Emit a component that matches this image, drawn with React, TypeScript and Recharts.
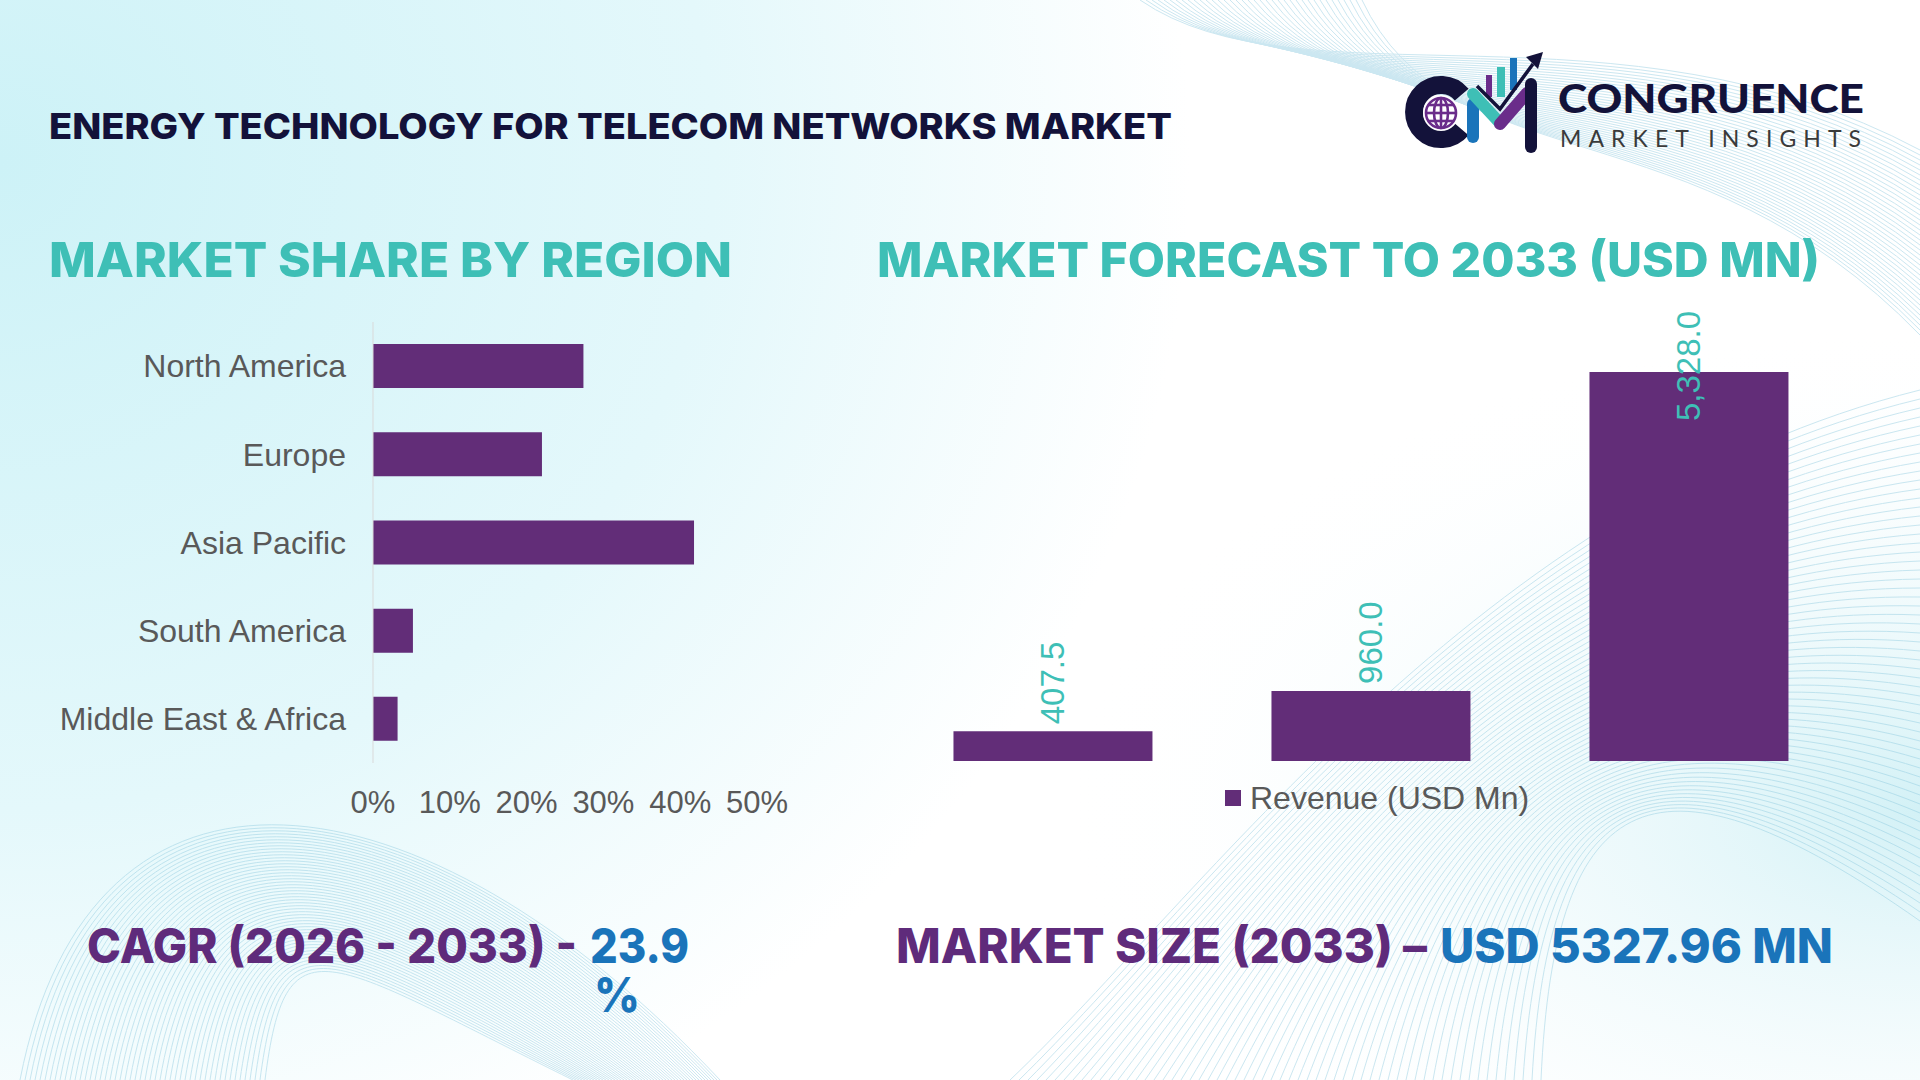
import React from "react";
import { Bar, BarChart, LabelList, Legend, XAxis, YAxis } from "recharts";

// Market share by region (fraction of total)
const regions = [
  "North America",
  "Europe",
  "Asia Pacific",
  "South America",
  "Middle East & Africa",
];
const regionShare = [0.274, 0.22, 0.418, 0.052, 0.032];
const shareTicks = [0, 0.1, 0.2, 0.3, 0.4, 0.5];

// Revenue forecast, USD Mn
const forecastYears = ["2021", "2025", "2033"];
const forecastRevenue = [407.5, 960.0, 5328.0];
const revenueDomain = [0, 6000];

const regionData = regions.map((region, i) => ({ region, share: regionShare[i] }));
const forecastData = forecastYears.map((year, i) => ({
  year,
  revenue: forecastRevenue[i],
}));

const PURPLE = "#622d78";
const TEAL = "#3ebfb6";
const NAVY = "#13123a";
const BLUE = "#1a74ba";
const HEAD_PURPLE = "#5f2b7b";
const AXIS_TEXT = "#595959";
const CHART_FONT = "'Liberation Sans', Arial, sans-serif";
const HEAD_FONT = "Inter, 'Open Sans', sans-serif";

const FORECAST_TOP = 23;

const fmtRevenue = (v: number) =>
  v.toLocaleString("en-US", { minimumFractionDigits: 1, maximumFractionDigits: 1 });

// rough Arial advance widths so the rotated label can be kept inside the frame
const textWidth = (s: string, size: number) =>
  s.split("").reduce((w, ch) => w + (/[0-9]/.test(ch) ? 0.556 : 0.278), 0) * size;

const ValueLabel = (props: any) => {
  const { x, y, width, value } = props;
  const text = fmtRevenue(Number(value));
  const size = 33;
  const cx = x + width / 2;
  const start = Math.max(y - 7, FORECAST_TOP - 12 + textWidth(text, size));
  return (
    <text
      x={cx}
      y={start}
      transform={`rotate(-90 ${cx} ${start})`}
      textAnchor="start"
      dominantBaseline="central"
      fill={TEAL}
      fontSize={size}
      fontFamily={CHART_FONT}
    >
      {text}
    </text>
  );
};

const RevenueLegend = () => (
  <div style={{ display: "flex", alignItems: "center", fontFamily: CHART_FONT }}>
    <span style={{ width: 16, height: 16, background: PURPLE, marginRight: 9 }} />
    <span style={{ fontSize: 32, color: AXIS_TEXT, lineHeight: "36px" }}>
      Revenue (USD Mn)
    </span>
  </div>
);

// faint line-mesh decoration
const range = (n: number) => Array.from({ length: n }, (_, i) => i);

const Background = () => (
  <svg width={1920} height={1080} style={{ position: "absolute", left: 0, top: 0 }}>
    <defs>
      <radialGradient id="haze-tl" cx="0" cy="0.15" r="1" gradientTransform="scale(0.62 1)">
        <stop offset="0" stopColor="#cdf2f7" />
        <stop offset="0.6" stopColor="#e4f8fb" />
        <stop offset="1" stopColor="#ffffff" />
      </radialGradient>
      <radialGradient id="haze-br" cx="1" cy="0.75" r="0.45">
        <stop offset="0" stopColor="#d3f1f6" />
        <stop offset="1" stopColor="#ffffff" stopOpacity="0" />
      </radialGradient>
    </defs>
    <rect width={1920} height={1080} fill="url(#haze-tl)" />
    <rect width={1920} height={1080} fill="url(#haze-br)" />
    <g fill="none" stroke="#86c7de" strokeWidth={1} opacity={0.42}>
      {range(50).map((i) => (
        <path
          key={`bl${i}`}
          d={`M ${20 + i * 5} 1080 C ${90 + i * 4} ${720 + i * 4}, ${420 - i * 2} ${760 + i * 4}, ${720 - i * 3} 1080`}
        />
      ))}
      {range(60).map((i) => (
        <path
          key={`br${i}`}
          d={`M ${1010 + i * 9} 1080 C ${1200 + i * 6} ${900 - i * 2}, ${1480 + i * 3} ${500 + i * 4}, 1920 ${390 + i * 9}`}
        />
      ))}
      {range(38).map((i) => (
        <path
          key={`tr${i}`}
          d={`M ${1140 + i * 6} 0 C ${1300 + i * 4} ${110 + i * 2}, ${1620 + i * 2} ${-10 + i * 3}, 1920 ${150 + i * 5}`}
        />
      ))}
    </g>

    {/* headings */}
    <text x={49} y={139} fontFamily={HEAD_FONT} fontWeight={800} fontSize={36} fill={NAVY}
      textLength={1123} lengthAdjust="spacingAndGlyphs">
      ENERGY TECHNOLOGY FOR TELECOM NETWORKS MARKET
    </text>
    <text x={49} y={277} fontFamily={HEAD_FONT} fontWeight={800} fontSize={48} fill={TEAL}
      textLength={683} lengthAdjust="spacingAndGlyphs">
      MARKET SHARE BY REGION
    </text>
    <text x={877} y={277} fontFamily={HEAD_FONT} fontWeight={800} fontSize={48} fill={TEAL}
      textLength={943} lengthAdjust="spacingAndGlyphs">
      MARKET FORECAST TO 2033 (USD MN)
    </text>

    <text x={87} y={963} fontFamily={HEAD_FONT} fontWeight={800} fontSize={48} fill={HEAD_PURPLE}
      textLength={490} lengthAdjust="spacingAndGlyphs">
      CAGR (2026 - 2033) -
    </text>
    <text x={590} y={963} fontFamily={HEAD_FONT} fontWeight={800} fontSize={48} fill={BLUE}
      textLength={99} lengthAdjust="spacingAndGlyphs">
      23.9
    </text>
    <text x={594} y={1012} fontFamily={HEAD_FONT} fontWeight={800} fontSize={48} fill={BLUE}
      textLength={46} lengthAdjust="spacingAndGlyphs">
      %
    </text>
    <text x={896} y={963} fontFamily={HEAD_FONT} fontWeight={800} fontSize={48} fill={HEAD_PURPLE}
      textLength={497} lengthAdjust="spacingAndGlyphs">
      MARKET SIZE (2033)
    </text>
    <text x={1403} y={963} fontFamily={HEAD_FONT} fontWeight={800} fontSize={48} fill={HEAD_PURPLE}
      textLength={24} lengthAdjust="spacingAndGlyphs">
      –
    </text>
    <text x={1440} y={963} fontFamily={HEAD_FONT} fontWeight={800} fontSize={48} fill={BLUE}
      textLength={393} lengthAdjust="spacingAndGlyphs">
      USD 5327.96 MN
    </text>

    {/* logo */}
    <g>
      <path d="M 1461.7 129.4 A 27 27 0 1 1 1461.7 94.6" fill="none" stroke={NAVY} strokeWidth={18} />
      <circle cx={1441} cy={113} r={18} fill="#ffffff" />
      <g fill="none" stroke="#6a2c8a" strokeWidth={2.6}>
        <circle cx={1441} cy={113} r={15} />
        <ellipse cx={1441} cy={113} rx={7} ry={15} />
        <line x1={1441} y1={98} x2={1441} y2={128} />
        <line x1={1426} y1={113} x2={1456} y2={113} />
        <line x1={1429} y1={105} x2={1453} y2={105} />
        <line x1={1429} y1={121} x2={1453} y2={121} />
      </g>
      <rect x={1486} y={75} width={6} height={22} fill="#6a2c8a" />
      <rect x={1497} y={67} width={8} height={30} fill={TEAL} />
      <rect x={1510} y={58} width={7} height={32} fill={BLUE} />
      <line x1={1473} y1={104} x2={1473} y2={137} stroke={BLUE} strokeWidth={12} strokeLinecap="round" />
      <line x1={1473} y1={94} x2={1499} y2={122} stroke={TEAL} strokeWidth={12} strokeLinecap="round" />
      <line x1={1500} y1={124} x2={1527} y2={93} stroke="#6a2c8a" strokeWidth={12} strokeLinecap="round" />
      <line x1={1531} y1={84} x2={1531} y2={147} stroke={NAVY} strokeWidth={12} strokeLinecap="round" />
      <polyline points="1477,86 1500,109 1533,64" fill="none" stroke={NAVY} strokeWidth={3.5} />
      <polygon points="1543,52 1526,57 1538,69" fill={NAVY} />
      <text x={1558} y={113} fontFamily="Lato, Inter, sans-serif" fontWeight={900} fontSize={40}
        fill={NAVY} textLength={306} lengthAdjust="spacingAndGlyphs">
        CONGRUENCE
      </text>
      <text x={1560} y={147} fontFamily="Lato, Inter, sans-serif" fontWeight={400} fontSize={23}
        fill="#3a3a3a" textLength={301} lengthAdjust="spacing">
        MARKET INSIGHTS
      </text>
    </g>
  </svg>
);

export default function App() {
  return (
    <div
      style={{
        position: "absolute",
        left: 0,
        top: 0,
        width: 1920,
        height: 1080,
        overflow: "hidden",
        background: "#ffffff",
      }}
    >
      <Background />

      <div style={{ position: "absolute", left: 0, top: 300 }}>
        <BarChart
          width={800}
          height={560}
          layout="vertical"
          data={regionData}
          margin={{ top: 22, right: 43, bottom: 37, left: 0 }}
          barCategoryGap="25%"
        >
          <XAxis
            type="number"
            domain={[0, 0.5]}
            ticks={shareTicks}
            interval={0}
            tickFormatter={(v) => `${Math.round(Number(v) * 100)}%`}
            axisLine={false}
            tickLine={false}
            tickSize={0}
            tickMargin={28}
            height={60}
            tick={{ fill: AXIS_TEXT, fontSize: 31, fontFamily: CHART_FONT }}
          />
          <YAxis
            type="category"
            dataKey="region"
            width={373}
            interval={0}
            axisLine={{ stroke: "#d9d9d9" }}
            tickLine={false}
            tickSize={0}
            tickMargin={27}
            tick={{ fill: AXIS_TEXT, fontSize: 32, fontFamily: CHART_FONT }}
          />
          <Bar dataKey="share" fill={PURPLE} isAnimationActive={false} />
        </BarChart>
      </div>

      <div style={{ position: "absolute", left: 860, top: 300 }}>
        <BarChart
          width={1020}
          height={540}
          data={forecastData}
          margin={{ top: FORECAST_TOP, right: 32, bottom: 79, left: 34 }}
          barCategoryGap="18.7%"
        >
          <XAxis dataKey="year" hide />
          <YAxis hide domain={revenueDomain} />
          <Legend
            verticalAlign="middle"
            align="center"
            layout="horizontal"
            wrapperStyle={{ top: 480, left: 365, width: 400 }}
            content={() => <RevenueLegend />}
          />
          <Bar dataKey="revenue" fill={PURPLE} isAnimationActive={false}>
            <LabelList dataKey="revenue" content={ValueLabel} />
          </Bar>
        </BarChart>
      </div>
    </div>
  );
}
